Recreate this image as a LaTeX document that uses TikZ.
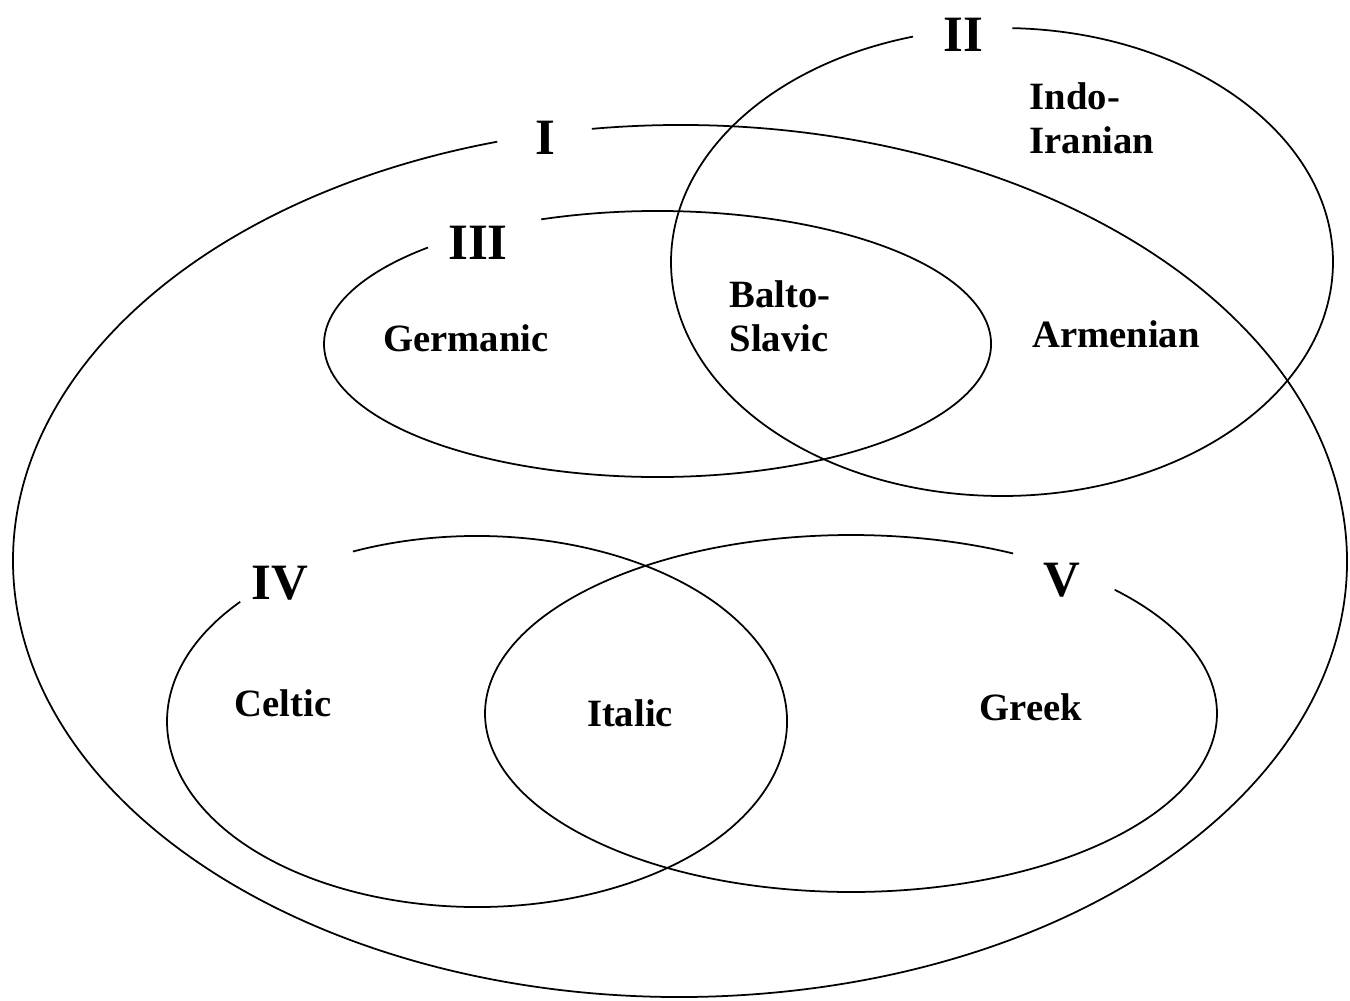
\documentclass[tikz,border=0pt]{standalone}
\usepackage{fontspec}
\setmainfont{Liberation Serif}

\begin{document}
\begin{tikzpicture}[x=0.02cm, y=0.02cm, line width=1pt,
  num/.style={inner sep=0pt, font=\fontsize{29}{30}\selectfont\bfseries},
  lang/.style={inner sep=0pt, align=left, font=\fontsize{22}{25}\selectfont\bfseries}]
\useasboundingbox (0,0) rectangle (1350,-1001);
\coordinate (cI) at (680,-561);
\coordinate (cII) at (1002,-262);
\coordinate (cIII) at (657.5,-344);
\coordinate (cIV) at (477,-721.5);
\coordinate (cV) at (851,-713.5);
\draw (cI) ++(-262.4:667 and 436) arc[start angle=-262.4, end angle=-614.1, x radius=667, y radius=436];
\draw (cII) ++(-271.8:331 and 234) arc[start angle=-271.8, end angle=-614.4, x radius=331, y radius=234];
\draw (cIII) ++(-249.6:333.5 and 133) arc[start angle=-249.6, end angle=-586.5, x radius=333.5, y radius=133];
\draw (cIV) ++(-246.4:310 and 185.5) arc[start angle=-246.4, end angle=-580.2, x radius=310, y radius=185.5];
\draw (cV) ++(-316.1:366 and 178.5) arc[start angle=-316.1, end angle=-656.3, x radius=366, y radius=178.5];
\node[num] (I) at (545,-138) {I};
\node[num] (II) at (963,-35) {II};
\node[num] (III) at (478,-243) {III};
\node[num] (IV) at (280,-583) {IV};
\node[num] (V) at (1062,-580) {V};
\node[lang] (indo) at (1092,-118) {Indo-\\Iranian};
\node[lang] (balto) at (780,-316) {Balto-\\Slavic};
\node[lang] (germanic) at (466,-338) {Germanic};
\node[lang] (armenian) at (1116,-334) {Armenian};
\node[lang] (celtic) at (283,-703) {Celtic};
\node[lang] (italic) at (630,-713) {Italic};
\node[lang] (greek) at (1031,-707) {Greek};
\end{tikzpicture}
\end{document}
